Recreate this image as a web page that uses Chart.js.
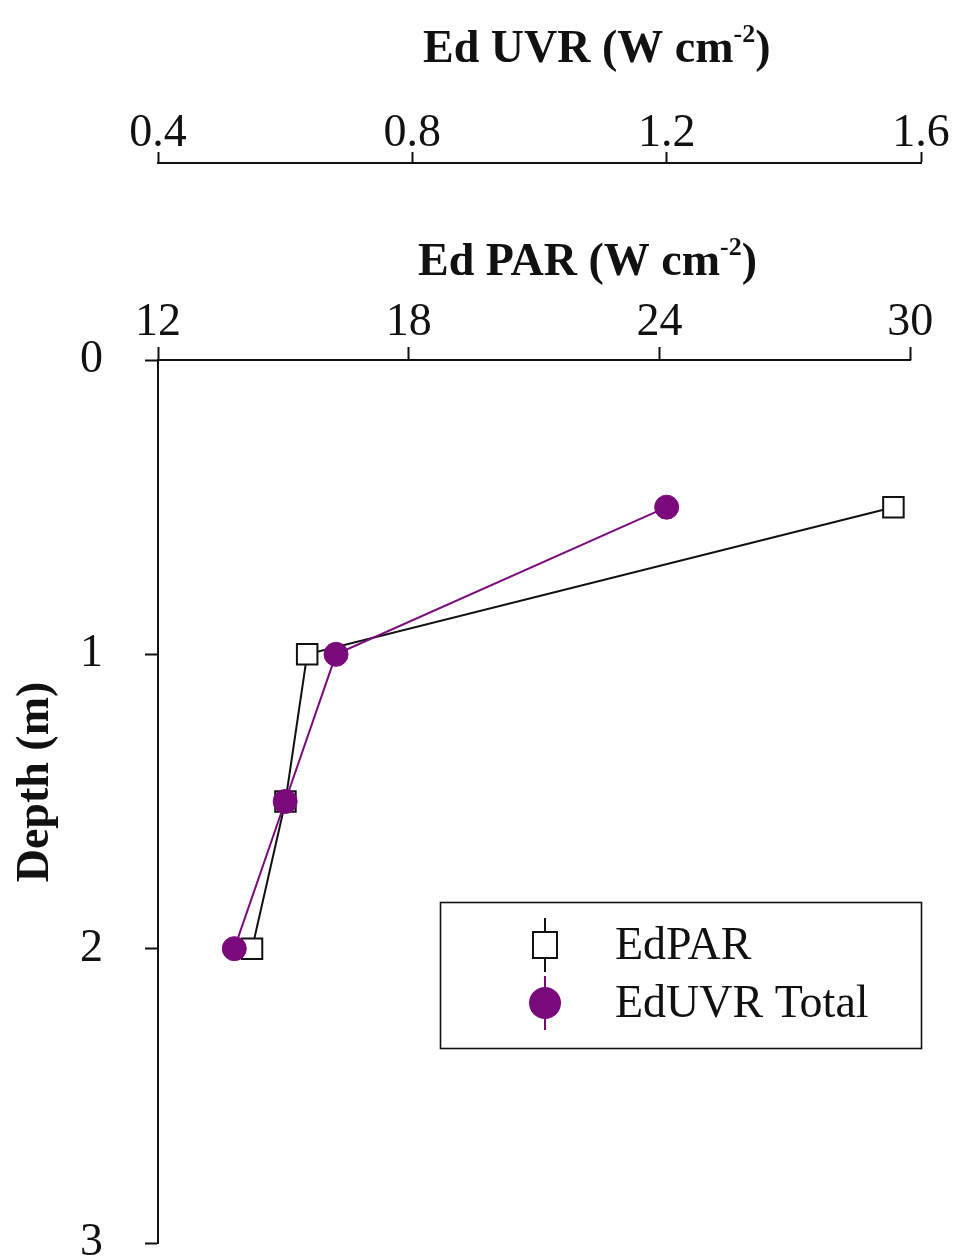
<!DOCTYPE html>
<html>
<head>
<meta charset="utf-8">
<script src="https://cdn.jsdelivr.net/npm/chart.js"></script>
<style>
    html, body { margin: 0; padding: 0; background: #fff; }
    canvas { display: block; }
</style>
</head>
<body>
<canvas id="profileChart" width="957" height="1260"></canvas>
<script>
// Irradiance profile with depth: PAR (bottom of the two top axes) and UVR (upper axis)
const depths = [0.5, 1, 1.5, 2];
const edPar = [29.6, 15.57, 15.05, 14.25];
const edUvr = [1.2, 0.68, 0.6, 0.52];

const parTicks = [12, 18, 24, 30];
const uvrTicks = [0.4, 0.8, 1.2, 1.6];
const depthTicks = [0, 1, 2, 3];

const seriesNames = ['EdPAR', 'EdUVR Total'];

const SERIF = '"Liberation Serif", "Times New Roman", serif';
const PURPLE = '#7a0a7c';
const INK = '#111';

function fixedSize(prop, value) {
    return function(scale) {
        scale[prop] = value;
        scale.paddingLeft = 0;
        scale.paddingRight = 0;
        scale.paddingTop = 0;
        scale.paddingBottom = 0;
    };
}

function setTicks(values) {
    return function(scale) {
        scale.ticks = values.map(v => ({ value: v }));
    };
}

// title with a raised "-2" exponent, e.g. "Ed PAR (W cm-2)"
function drawUnitTitle(ctx, head, sup, tail, cx, cy) {
    const big = 'bold 46px ' + SERIF;
    const small = 'bold 26px ' + SERIF;
    ctx.font = big;
    const w1 = ctx.measureText(head).width;
    const w3 = ctx.measureText(tail).width;
    ctx.font = small;
    const w2 = ctx.measureText(sup).width;
    let x = cx - (w1 + w2 + w3) / 2;
    ctx.textAlign = 'left';
    ctx.textBaseline = 'alphabetic';
    const base = cy + 16;
    ctx.font = big;
    ctx.fillText(head, x, base);
    x += w1;
    ctx.font = small;
    ctx.fillText(sup, x, base - 20);
    x += w2;
    ctx.font = big;
    ctx.fillText(tail, x, base);
}

const decorations = {
    id: 'decorations',
    afterDraw(chart) {
        const ctx = chart.ctx;
        const area = chart.chartArea;
        const par = chart.scales.par;
        const uvr = chart.scales.uvr;
        ctx.save();
        ctx.fillStyle = INK;
        ctx.strokeStyle = INK;

        // PAR axis line stops at the last tick
        ctx.lineWidth = 2;
        ctx.beginPath();
        ctx.moveTo(area.left, par.bottom);
        ctx.lineTo(par.getPixelForValue(parTicks[parTicks.length - 1]) + 1, par.bottom);
        ctx.stroke();

        // axis titles
        const w = area.right - area.left;
        drawUnitTitle(ctx, 'Ed UVR (W cm', '-2', ')', area.left + 0.575 * w, uvr.top + 46);
        drawUnitTitle(ctx, 'Ed PAR (W cm', '-2', ')', area.left + 0.563 * w, par.top + 96);

        ctx.save();
        ctx.translate(36, 782);
        ctx.rotate(-Math.PI / 2);
        ctx.font = 'bold 46px ' + SERIF;
        ctx.textAlign = 'center';
        ctx.textBaseline = 'middle';
        ctx.fillText('Depth (m)', 0, 0);
        ctx.restore();

        // legend box
        const bx = 440, by = 902, bw = 481, bh = 146;
        ctx.lineWidth = 1.6;
        ctx.strokeRect(bx + 0.5, by + 0.5, bw, bh);

        const mx = 545;
        const rows = [945, 1003];
        ctx.font = '46px ' + SERIF;
        ctx.textAlign = 'left';
        ctx.textBaseline = 'middle';
        chart.data.datasets.forEach((ds, i) => {
            const y = rows[i];
            ctx.strokeStyle = ds.borderColor;
            ctx.lineWidth = 2;
            ctx.beginPath();
            ctx.moveTo(mx, y - 27);
            ctx.lineTo(mx, y + 27);
            ctx.stroke();
            if (ds.pointStyle === 'rect') {
                ctx.fillStyle = '#fff';
                ctx.fillRect(mx - 12, y - 13, 24, 26);
                ctx.strokeStyle = INK;
                ctx.strokeRect(mx - 12, y - 13, 24, 26);
            } else {
                ctx.fillStyle = ds.pointBackgroundColor;
                ctx.beginPath();
                ctx.arc(mx, y, 16, 0, Math.PI * 2);
                ctx.fill();
            }
            ctx.fillStyle = INK;
            ctx.fillText(ds.label, 615, y + 2);
        });
        ctx.restore();
    }
};

const ctx = document.getElementById('profileChart');

new Chart(ctx, {
    type: 'scatter',
    data: {
        datasets: [
            {
                label: seriesNames[0],
                data: depths.map((d, i) => ({ x: edPar[i], y: d })),
                xAxisID: 'par',
                yAxisID: 'depth',
                showLine: true,
                borderColor: INK,
                borderWidth: 2,
                pointStyle: 'rect',
                pointRadius: 14.5,
                pointBackgroundColor: '#fff',
                pointBorderColor: INK,
                pointBorderWidth: 2,
                order: 2
            },
            {
                label: seriesNames[1],
                data: depths.map((d, i) => ({ x: edUvr[i], y: d })),
                xAxisID: 'uvr',
                yAxisID: 'depth',
                showLine: true,
                borderColor: PURPLE,
                borderWidth: 2,
                pointStyle: 'circle',
                pointRadius: 12,
                pointBackgroundColor: PURPLE,
                pointBorderColor: PURPLE,
                pointBorderWidth: 1,
                order: 1
            }
        ]
    },
    options: {
        responsive: false,
        animation: false,
        events: [],
        layout: { padding: { left: 0, right: 36, top: 0, bottom: 17 } },
        plugins: {
            legend: { display: false },
            tooltip: { enabled: false }
        },
        scales: {
            par: {
                type: 'linear',
                position: 'top',
                weight: 0,
                min: 12,
                max: 30.26,
                afterFit: fixedSize('height', 197),
                afterBuildTicks: setTicks(parTicks),
                border: { display: false },
                grid: {
                    drawOnChartArea: false,
                    drawTicks: true,
                    tickLength: 13,
                    tickColor: INK,
                    tickWidth: 2
                },
                ticks: {
                    padding: -4,
                    color: INK,
                    font: { family: SERIF, size: 46 },
                    maxRotation: 0,
                    callback: v => String(v)
                }
            },
            uvr: {
                type: 'linear',
                position: 'top',
                weight: 1,
                min: 0.4,
                max: 1.6,
                afterFit: fixedSize('height', 163),
                afterBuildTicks: setTicks(uvrTicks),
                border: { display: true, color: INK, width: 2 },
                grid: {
                    drawOnChartArea: false,
                    drawTicks: true,
                    tickLength: 11,
                    tickColor: INK,
                    tickWidth: 2
                },
                ticks: {
                    padding: -10,
                    color: INK,
                    font: { family: SERIF, size: 46 },
                    maxRotation: 0,
                    callback: v => v.toFixed(1)
                }
            },
            depth: {
                type: 'linear',
                position: 'left',
                reverse: true,
                min: 0,
                max: 3,
                afterFit: fixedSize('width', 158),
                afterBuildTicks: setTicks(depthTicks),
                border: { display: true, color: INK, width: 2 },
                grid: {
                    drawOnChartArea: false,
                    drawTicks: true,
                    tickLength: 13,
                    tickColor: INK,
                    tickWidth: 2
                },
                ticks: {
                    padding: 42,
                    color: INK,
                    font: { family: SERIF, size: 46 },
                    callback: v => String(v)
                }
            }
        }
    },
    plugins: [decorations]
});
</script>
</body>
</html>
